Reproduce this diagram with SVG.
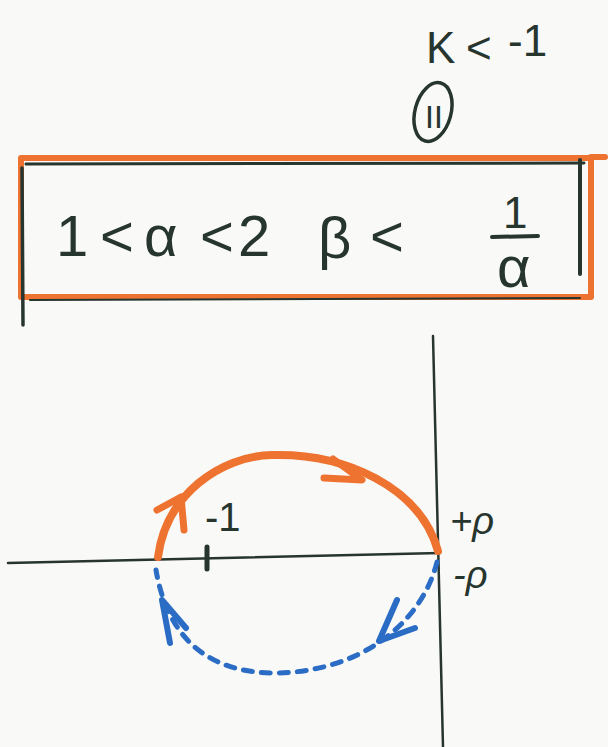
<svg xmlns="http://www.w3.org/2000/svg" width="608" height="747" viewBox="0 0 608 747">
  <style>
    .ink { fill: #27352f; font-family: "Liberation Sans", "DejaVu Sans", sans-serif; }
    .dark { stroke: #27352f; fill: none; stroke-linecap: round; }
    .orange { stroke: #ee7330; fill: none; stroke-linecap: round; stroke-linejoin: round; }
    .blue { stroke: #2b6cc4; fill: none; stroke-linecap: round; stroke-linejoin: round; }
  </style>
  <rect x="0" y="0" width="608" height="747" fill="#f9f9f7"/>

  <g id="condition-k">
    <text class="ink" x="426" y="63" font-size="44">K</text>
    <text class="ink" x="466" y="63" font-size="44">&lt;</text>
    <text class="ink" x="508" y="56" font-size="44">-1</text>
  </g>

  <g id="case-label">
    <ellipse cx="433" cy="112" rx="18" ry="30" class="dark" stroke-width="3.5" transform="rotate(15 433 112)"/>
    <text class="ink" x="425" y="128" font-size="32">II</text>
  </g>

  <g id="condition-box">
    <rect x="21" y="158" width="570" height="139" class="orange" stroke-width="6"/>
    <line x1="591" y1="157" x2="605" y2="157" class="orange" stroke-width="6"/>
    <line x1="26" y1="164" x2="584" y2="163" class="dark" stroke-width="3"/>
    <line x1="580" y1="160" x2="580" y2="274" class="dark" stroke-width="4"/>
    <line x1="22" y1="168" x2="23" y2="325" class="dark" stroke-width="3.5"/>
    <line x1="30" y1="300" x2="580" y2="298" class="dark" stroke-width="2"/>
    <text class="ink" font-size="58" y="256"><tspan x="56">1</tspan><tspan x="100">&lt;</tspan><tspan x="144">α</tspan><tspan x="200">&lt;</tspan><tspan x="238">2</tspan></text>
    <text class="ink" font-size="58" x="318" y="258">β</text>
    <text class="ink" font-size="58" x="370" y="256">&lt;</text>
    <text class="ink" font-size="44" x="503" y="228">1</text>
    <line x1="492" y1="237" x2="538" y2="236" class="dark" stroke-width="4"/>
    <text class="ink" font-size="58" x="497" y="287">α</text>
  </g>

  <g id="axes">
    <line x1="8" y1="563" x2="440" y2="553" class="dark" stroke-width="2.5"/>
    <line x1="433" y1="336" x2="443" y2="747" class="dark" stroke-width="2.5"/>
    <line x1="207" y1="547" x2="207" y2="569" class="dark" stroke-width="5"/>
  </g>

  <g id="labels">
    <text class="ink" font-size="40" x="205" y="531">-1</text>
    <text class="ink" font-size="38" x="450" y="534" font-style="italic">+ρ</text>
    <text class="ink" font-size="38" x="453" y="588" font-style="italic">-ρ</text>
  </g>

  <g id="connectors">
    <g id="orange-locus">
      <path d="M158,557 C166,495 220,456 272,455 C345,453 420,487 438,551" class="orange" stroke-width="8"/>
      <path d="M157,510 L181,497 L184,530" class="orange" stroke-width="7"/>
      <path d="M333,459 L362,480 L324,478" class="orange" stroke-width="7"/>
    </g>
    <g id="blue-locus">
      <path d="M437,562 C422,622 362,672 275,673 C210,673 168,640 156,570" class="blue" stroke-width="5" stroke-dasharray="9 9"/>
      <path d="M397,600 L379,641 L415,628" class="blue" stroke-width="6"/>
      <path d="M170,643 L162,600 L186,628" class="blue" stroke-width="6"/>
    </g>
  </g>
</svg>
